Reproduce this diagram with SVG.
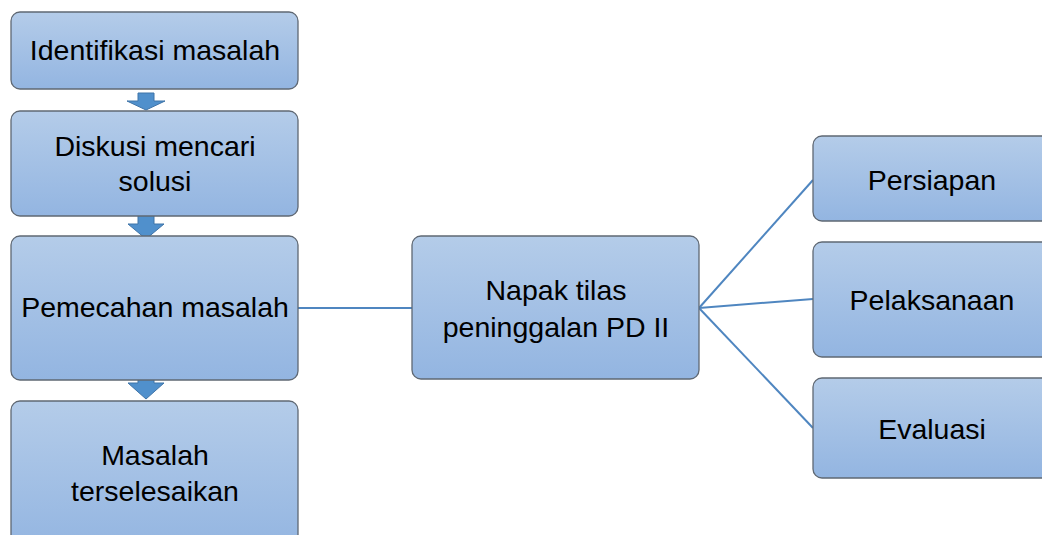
<svg xmlns="http://www.w3.org/2000/svg" width="1042" height="535" viewBox="0 0 1042 535">
<defs>
<linearGradient id="g" x1="0" y1="0" x2="0" y2="1">
<stop offset="0" stop-color="#b4cce9"/>
<stop offset="1" stop-color="#93b5e1"/>
</linearGradient>
<style>
.box{fill:url(#g);stroke:#5f6873;stroke-width:1.3}
.t{font-family:"Liberation Sans",Arial,sans-serif;font-size:28.5px;fill:#000;text-anchor:middle}
.c{stroke:#4f86c0;stroke-width:2;fill:none}
.arr{fill:#5090cc;stroke:#3f74a8;stroke-width:1}
</style>
</defs>
<g id="connectors">
<line class="c" x1="298" y1="308" x2="412" y2="308"/>
<line class="c" x1="699" y1="308" x2="813" y2="180"/>
<line class="c" x1="699" y1="308" x2="813" y2="299"/>
<line class="c" x1="699" y1="308" x2="813" y2="428"/>
<path class="arr" d="M138,93 H154 V101 H165 L146,110 L127,101 H138 Z"/>
<path class="arr" d="M138,213 H154 V224 H164 L146,239 L128,224 H138 Z"/>
<path class="arr" d="M138,373 H154 V383 H164 L146,399 L128,383 H138 Z"/>
</g>
<g id="n1"><rect class="box" x="11" y="12" width="287" height="77" rx="9"/><text class="t" x="155" y="60">Identifikasi masalah</text></g>
<g id="n2"><rect class="box" x="11" y="111" width="287" height="105" rx="9"/><text class="t" x="155" y="156">Diskusi mencari</text><text class="t" x="155" y="191">solusi</text></g>
<g id="n3"><rect class="box" x="11" y="236" width="287" height="144" rx="9"/><text class="t" x="155" y="317">Pemecahan masalah</text></g>
<g id="n4"><rect class="box" x="11" y="401" width="287" height="150" rx="9"/><text class="t" x="155" y="465">Masalah</text><text class="t" x="155" y="501">terselesaikan</text></g>
<g id="n5"><rect class="box" x="412" y="236" width="287" height="143" rx="9"/><text class="t" x="556" y="300">Napak tilas</text><text class="t" x="556" y="337">peninggalan PD II</text></g>
<g id="n6"><rect class="box" x="813" y="136" width="250" height="85" rx="9"/><text class="t" x="932" y="190">Persiapan</text></g>
<g id="n7"><rect class="box" x="813" y="242" width="250" height="115" rx="9"/><text class="t" x="932" y="310">Pelaksanaan</text></g>
<g id="n8"><rect class="box" x="813" y="378" width="250" height="100" rx="9"/><text class="t" x="932" y="439">Evaluasi</text></g>
</svg>
